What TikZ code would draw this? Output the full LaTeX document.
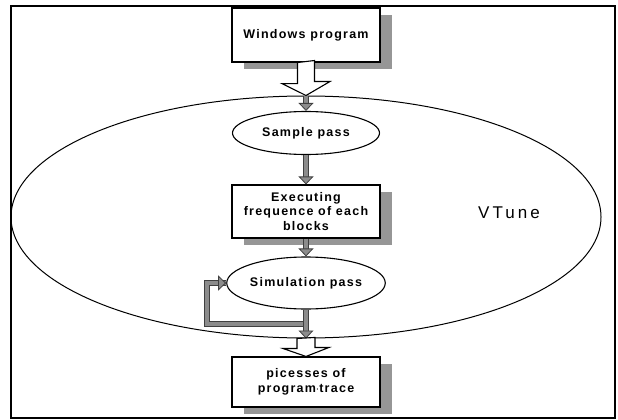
\documentclass[tikz,border=0pt]{standalone}
\usepackage{fontspec}
\usepackage{tikz}
\usetikzlibrary{positioning,arrows.meta,shapes.geometric,calc,shadows}
\newfontfamily\fuente[LetterSpace=10]{Liberation Sans}
\newfontfamily\fuentegrande[LetterSpace=18]{Liberation Sans}
\definecolor{sombra}{RGB}{150,150,150}
\definecolor{relleno}{RGB}{140,140,140}

\begin{document}
\begin{tikzpicture}[x=1pt, y=-1pt,
  caja/.style={draw, fill=white, line width=1.1pt, minimum width=148pt,
               inner sep=2pt, align=center,
               font=\fuente\bfseries\fontsize{12.5}{14.5}\selectfont,
               drop shadow={shadow xshift=12pt, shadow yshift=-7pt,
                            fill=sombra, opacity=1}},
  elipse/.style={ellipse, draw, fill=white, line width=1.1pt,
                 minimum width=147pt, inner sep=0pt,
                 font=\fuente\bfseries\fontsize{12.5}{14.5}\selectfont},
  gris/.style={draw=black!75, line width=0.8pt, double=relleno,
               double distance=3.5pt,
               -{Triangle[width=15pt, length=8pt, fill=relleno]}},
  hueca/.style={draw, fill=white, line width=1.1pt, line join=miter}]
  \useasboundingbox (0,0) rectangle (618,420);
  % Marco
  \draw[line width=1.5pt] (11,6) rectangle (615,418);
  % VTune
  \node[ellipse, draw, line width=1pt, minimum width=590pt,
        minimum height=242pt, inner sep=0pt] (vtune) at (306,217) {};
  \node[font=\fuentegrande\fontsize{17}{19}\selectfont] (nombre)
       at (509,213) {VTune};
  % Bloques
  \node[caja, minimum height=54pt] (win) at (306,35) {Windows program};
  \node[elipse, minimum height=43pt] (muestra) at (306,133) {Sample pass};
  \node[caja, minimum height=53pt] (frec) at (306,211.5)
       {Executing\\frequence of each\\blocks};
  \node[elipse, minimum height=52pt] (sim) at (306,283) {Simulation pass};
  \node[caja, minimum height=50pt] (traza) at (306,382)
       {picesses of\\program$\cdot$trace};
  % Flechas huecas
  \draw[hueca] ($(win.south)+(-8.5,0)$) -- ++(0,21) -- ++(-15.5,0)
       -- (vtune.north) -- ++(24,-14) -- ++(-15.5,0) -- ++(0,-21) -- cycle;
  % Flechas grises
  \draw[gris] (vtune.north) -- (muestra.north);
  \draw[gris] (muestra.south) -- (frec.north);
  \draw[gris] (frec.south) -- (sim.north);
  \draw[gris, -] ($(sim.south)!.5!(vtune.south)$) -- ++(-99,0) |- (sim.west);
  \draw[gris] ($(sim.west)+(-10,0)$) -- (sim.west);
  \draw[gris] (sim.south) -- (vtune.south);
  \draw[hueca] ($(vtune.south)+(-9,0)$) -- ++(0,10) -- ++(-14,0)
       -- (traza.north) -- ++(23,-9) -- ++(-14,0) -- ++(0,-10) -- cycle;
\end{tikzpicture}
\end{document}
